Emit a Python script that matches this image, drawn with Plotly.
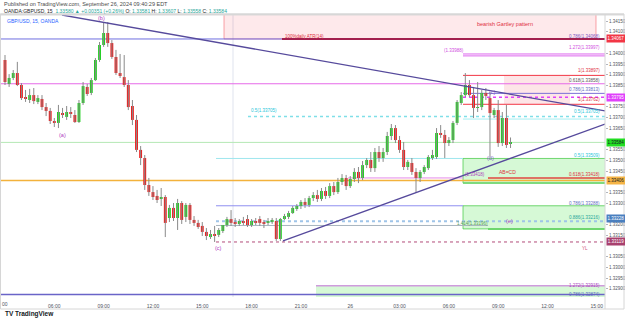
import plotly.graph_objects as go
from datetime import datetime, timedelta

# ---------------- data (GBPUSD 15m) ----------------
START = datetime(2024, 9, 25, 3, 0)

opens = [1.33969, 1.33857, 1.33885, 1.33908, 1.33852, 1.33796, 1.33782, 1.33805, 1.33773, 1.33787,
         1.33749, 1.33731, 1.33684, 1.33675, 1.33721, 1.33703, 1.33726, 1.33712, 1.33679, 1.33768,
         1.33843, 1.33815, 1.33875, 1.33969, 1.34039, 1.34095, 1.34048, 1.33983, 1.33908, 1.33889,
         1.33852, 1.33754, 1.33689, 1.33549, 1.33511, 1.33385, 1.33352, 1.33334, 1.33320, 1.33329,
         1.33231, 1.33278, 1.33231, 1.33301, 1.33236, 1.33292, 1.33222, 1.33208, 1.33194, 1.33166,
         1.33142, 1.33156, 1.33152, 1.33170, 1.33198, 1.33226, 1.33212, 1.33203, 1.33217, 1.33226,
         1.33198, 1.33217, 1.33226, 1.33208, 1.33208, 1.33212, 1.33217, 1.33133, 1.33226, 1.33236,
         1.33254, 1.33273, 1.33287, 1.33306, 1.33292, 1.33324, 1.33338, 1.33320, 1.33357, 1.33334,
         1.33380, 1.33352, 1.33399, 1.33418, 1.33380, 1.33413, 1.33446, 1.33418, 1.33478, 1.33502,
         1.33464, 1.33539, 1.33511, 1.33539, 1.33614, 1.33651, 1.33595, 1.33549, 1.33469, 1.33488,
         1.33446, 1.33418, 1.33446, 1.33464, 1.33511, 1.33516, 1.33628, 1.33619, 1.33581, 1.33595,
         1.33675, 1.33768, 1.33805, 1.33852, 1.33805, 1.33745, 1.33749, 1.33815, 1.33791, 1.33712,
         1.33735, 1.33581, 1.33698, 1.33581]
highs = [1.33992, 1.33903, 1.33922, 1.33960, 1.33861, 1.33829, 1.33834, 1.33838, 1.33805, 1.33805,
         1.33768, 1.33745, 1.33698, 1.33759, 1.33745, 1.33754, 1.33749, 1.33735, 1.33782, 1.33866,
         1.33857, 1.33885, 1.33978, 1.34053, 1.34142, 1.34146, 1.34062, 1.34016, 1.33997, 1.33992,
         1.33875, 1.33782, 1.33712, 1.33567, 1.33525, 1.33418, 1.33380, 1.33362, 1.33371, 1.33338,
         1.33292, 1.33301, 1.33320, 1.33310, 1.33301, 1.33301, 1.33240, 1.33222, 1.33212, 1.33184,
         1.33175, 1.33194, 1.33184, 1.33198, 1.33236, 1.33268, 1.33231, 1.33226, 1.33236, 1.33245,
         1.33226, 1.33231, 1.33240, 1.33222, 1.33231, 1.33231, 1.33231, 1.33231, 1.33250, 1.33264,
         1.33287, 1.33296, 1.33315, 1.33324, 1.33334, 1.33352, 1.33362, 1.33371, 1.33376, 1.33394,
         1.33399, 1.33418, 1.33436, 1.33432, 1.33427, 1.33464, 1.33469, 1.33497, 1.33511, 1.33539,
         1.33558, 1.33567, 1.33558, 1.33633, 1.33670, 1.33665, 1.33614, 1.33586, 1.33502, 1.33511,
         1.33464, 1.33455, 1.33478, 1.33525, 1.33549, 1.33651, 1.33665, 1.33642, 1.33609, 1.33684,
         1.33782, 1.33819, 1.33908, 1.33875, 1.33843, 1.33866, 1.33829, 1.33838, 1.33819, 1.33745,
         1.33782, 1.33726, 1.33759, 1.33607]
lows = [1.33852, 1.33843, 1.33875, 1.33847, 1.33782, 1.33773, 1.33768, 1.33763, 1.33763, 1.33735,
        1.33707, 1.33670, 1.33656, 1.33651, 1.33698, 1.33689, 1.33698, 1.33675, 1.33675, 1.33759,
        1.33801, 1.33805, 1.33871, 1.33960, 1.34030, 1.34030, 1.33974, 1.33899, 1.33885, 1.33843,
        1.33735, 1.33665, 1.33539, 1.33478, 1.33362, 1.33334, 1.33315, 1.33301, 1.33287, 1.33142,
        1.33212, 1.33217, 1.33175, 1.33203, 1.33212, 1.33203, 1.33194, 1.33180, 1.33147, 1.33128,
        1.33133, 1.33119, 1.33142, 1.33161, 1.33189, 1.33194, 1.33189, 1.33194, 1.33198, 1.33189,
        1.33189, 1.33198, 1.33194, 1.33184, 1.33198, 1.33203, 1.33124, 1.33124, 1.33222, 1.33226,
        1.33250, 1.33264, 1.33273, 1.33278, 1.33282, 1.33310, 1.33306, 1.33310, 1.33320, 1.33324,
        1.33338, 1.33343, 1.33385, 1.33362, 1.33371, 1.33399, 1.33394, 1.33408, 1.33464, 1.33446,
        1.33446, 1.33493, 1.33493, 1.33525, 1.33595, 1.33581, 1.33535, 1.33455, 1.33455, 1.33432,
        1.33348, 1.33399, 1.33436, 1.33455, 1.33502, 1.33507, 1.33605, 1.33511, 1.33567, 1.33581,
        1.33665, 1.33759, 1.33796, 1.33796, 1.33698, 1.33726, 1.33735, 1.33782, 1.33516, 1.33698,
        1.33563, 1.33567, 1.33558, 1.33558]
closes = [1.33866, 1.33885, 1.33908, 1.33852, 1.33791, 1.33787, 1.33805, 1.33777, 1.33791, 1.33749,
          1.33731, 1.33684, 1.33679, 1.33726, 1.33712, 1.33726, 1.33717, 1.33679, 1.33768, 1.33847,
          1.33810, 1.33875, 1.33969, 1.34039, 1.34095, 1.34048, 1.33983, 1.33908, 1.33894, 1.33852,
          1.33749, 1.33689, 1.33549, 1.33511, 1.33385, 1.33352, 1.33329, 1.33315, 1.33329, 1.33208,
          1.33278, 1.33231, 1.33301, 1.33222, 1.33292, 1.33222, 1.33208, 1.33189, 1.33166, 1.33147,
          1.33156, 1.33147, 1.33175, 1.33198, 1.33226, 1.33208, 1.33203, 1.33217, 1.33212, 1.33198,
          1.33217, 1.33212, 1.33208, 1.33203, 1.33217, 1.33222, 1.33133, 1.33226, 1.33240, 1.33254,
          1.33278, 1.33287, 1.33306, 1.33292, 1.33324, 1.33338, 1.33320, 1.33357, 1.33334, 1.33380,
          1.33352, 1.33399, 1.33418, 1.33380, 1.33413, 1.33446, 1.33418, 1.33478, 1.33502, 1.33464,
          1.33539, 1.33511, 1.33539, 1.33614, 1.33651, 1.33595, 1.33549, 1.33469, 1.33493, 1.33446,
          1.33418, 1.33446, 1.33469, 1.33516, 1.33525, 1.33628, 1.33619, 1.33581, 1.33595, 1.33675,
          1.33773, 1.33805, 1.33852, 1.33805, 1.33745, 1.33749, 1.33815, 1.33801, 1.33721, 1.33735,
          1.33581, 1.33698, 1.33572, 1.33584]

time_ticks_text = ["03:00", "06:00", "09:00", "12:00", "15:00", "18:00", "21:00", "26",
                   "03:00", "06:00", "09:00", "12:00", "15:00"]

# horizontal drawing levels (price)
lvl_atr = 1.34067
lvl_1272a, lvl_1272b = 1.33997, 1.33988
lvl_1a = 1.33897
lvl_0618a = 1.33858
lvl_0786a = 1.33813
lvl_mag = 1.33795
lvl_1b = 1.33762
lvl_05a = 1.33705
lvl_last = 1.33584
lvl_05b = 1.33509
lvl_0618b = 1.33418
lvl_orange = 1.33406
lvl_0786b = 1.33288
lvl_0886 = 1.33216
lvl_blue = 1.33228
lvl_1414 = 1.33196
lvl_greenlow = 1.33180
lvl_boxlow1 = 1.33394
lvl_yl = 1.33119
lvl_1272c = 1.32915
lvl_0786c = 1.32874

Y_MIN, Y_MAX = 1.32862, 1.34179

# ---------------- helpers ----------------
BAR = timedelta(minutes=15)
def bt(i):
    return START + BAR * i

PXW, PXT, PXB = 605.0, 15.0, 297.0
def pb(x):  # pixel x -> bar index
    return (x - 5.0) / 4.11
def px(x):
    return x / PXW
def py(y):
    return (PXB - y) / (PXB - PXT)

times = [bt(i) for i in range(len(opens))]
UP, DN, WICK = "#1fcf1f", "#ef1a1a", "#8a8a8a"

fig = go.Figure()
# wicks
wx, wy = [], []
for t, h, l in zip(times, highs, lows):
    wx += [t, t, None]
    wy += [l, h, None]
fig.add_trace(go.Scatter(x=wx, y=wy, mode="lines", line=dict(color=WICK, width=1),
                         hoverinfo="skip", showlegend=False))
# bodies
base = [min(o, c) for o, c in zip(opens, closes)]
hgt = [max(abs(c - o), 0.00002) for o, c in zip(opens, closes)]
cols = [UP if c >= o else DN for o, c in zip(opens, closes)]
fig.add_trace(go.Bar(x=times, y=hgt, base=base, marker=dict(color=cols, line=dict(width=0)),
                     width=15 * 60 * 1000 * 0.7, hoverinfo="skip", showlegend=False))

shapes = []
def hline(p, x0, x1, color, width=1, dash="solid"):
    shapes.append(dict(type="line", xref="x", yref="y", x0=bt(pb(x0)), x1=bt(pb(x1)),
                       y0=p, y1=p, line=dict(color=color, width=width, dash=dash), layer="below"))
def box(p0, p1, x0, x1, fill, line="rgba(0,0,0,0)", lw=0):
    shapes.append(dict(type="rect", xref="x", yref="y", x0=bt(pb(x0)), x1=bt(pb(x1)),
                       y0=p0, y1=p1, fillcolor=fill, line=dict(color=line, width=lw), layer="below"))

# boxes
box(lvl_atr, Y_MAX + 0.0001, 224, 596, "rgba(242,54,69,0.11)", "rgba(242,54,69,0.45)", 1)
box(lvl_1a, lvl_1b, 504, 570, "rgba(242,54,69,0.13)")
box(lvl_05b, lvl_boxlow1, 463, 606, "rgba(0,220,0,0.16)", "rgba(60,200,60,0.7)", 1)
box(lvl_0786b, lvl_greenlow, 463, 606, "rgba(0,220,0,0.16)", "rgba(60,200,60,0.7)", 1)
box(lvl_1272c, Y_MIN - 0.0001, 316, 606, "rgba(0,220,0,0.16)")
# vertical line
shapes.append(dict(type="line", xref="x", yref="paper", x0=bt(pb(233)), x1=bt(pb(233)), y0=0, y1=1,
                   line=dict(color="#dfe3ee", width=1), layer="below"))
# horizontal levels
hline(lvl_atr, 0, 282, "#6f6fe0", 1)
hline(lvl_atr, 282, 606, "#a3204e", 2)
hline(lvl_1272a, 463, 606, "#dd66ee", 1)
hline(lvl_1272b, 463, 606, "#dd66ee", 1)
hline(lvl_1a, 463, 606, "#f23645", 1)
hline(lvl_0618a, 0, 606, "#e66ae8", 1.2)
hline(lvl_0786a, 463, 606, "#7b6fd6", 1)
hline(lvl_mag, 463, 606, "#e040fb", 1.5, "dot")
hline(lvl_1b, 463, 606, "#f23645", 1)
hline(lvl_05a, 248, 606, "#7fdfe8", 1.5, "dot")
hline(lvl_05a - 0.00012, 463, 606, "#a6eef2", 1)
hline(lvl_last, 0, 606, "#b4e8b4", 1)
hline(lvl_05b, 216, 463, "#9ee6ee", 1)
hline(lvl_0618b, 348, 463, "#e58ae8", 1)
hline(lvl_0618b, 488, 606, "#e0473f", 1.5)
hline(lvl_orange, 0, 606, "#f3b23c", 1.5)
hline(lvl_boxlow1, 463, 606, "#6fd66f", 1.5)
hline(lvl_0786b, 216, 463, "#8f8ff0", 1)
hline(lvl_0886, 216, 606, "#9fc4e8", 2, "dot")
hline(lvl_1414, 216, 488, "#a8b4bf", 1)
hline(lvl_greenlow, 488, 606, "#6fd66f", 2)
hline(lvl_yl, 216, 606, "#b24c7a", 1, "dot")
hline(lvl_1272c, 316, 606, "#cf9bdd", 1.5)
hline(lvl_0786c, 0, 606, "#6a64c8", 1.5)

# trend lines
def tline(xa, pa, xb, pb_, color="#564a9c", w=1.3):
    shapes.append(dict(type="line", xref="x", yref="y", x0=bt(pb(xa)), x1=bt(pb(xb)),
                       y0=pa, y1=pb_, line=dict(color=color, width=w)))
tline(62, 1.34179, 605, 1.33731)
tline(283, 1.33124, 605, 1.33670)

# frame
shapes.append(dict(type="line", xref="paper", yref="paper", x0=0, x1=624 / PXW, y0=py(14.5), y1=py(14.5),
                   line=dict(color="#d9d9d9", width=2)))
shapes.append(dict(type="rect", xref="paper", yref="paper", x0=px(0.5), x1=px(624), y0=py(309), y1=py(14),
                   line=dict(color="#d6d6d6", width=1)))
shapes.append(dict(type="line", xref="paper", yref="paper", x0=1, x1=1, y0=py(309), y1=py(14),
                   line=dict(color="#d6d6d6", width=1)))

FONT = "Liberation Sans"
ann = []
def txt(x, y, s, color, size=5, xa="left", bold=False):
    ann.append(dict(xref="paper", yref="paper", x=px(x), y=py(y), text=("<b>%s</b>" % s) if bold else s,
                    showarrow=False, xanchor=xa, yanchor="middle",
                    font=dict(family=FONT, size=size, color=color)))

txt(2, 4, "Published on TradingView.com, September 26, 2024 09:40:29 EDT", "#4a4a4a", 5.5)
txt(2, 11, "OANDA:GBPUSD, 15  <span style='color:#26a69a'>1.33580 ▲ +0.00351 (+0.26%)</span> "
           "O: <span style='color:#26a69a'>1.33581</span> H: <span style='color:#26a69a'>1.33607</span> "
           "L: <span style='color:#26a69a'>1.33558</span> C: <span style='color:#26a69a'>1.33584</span>",
    "#222222", 5)
txt(5, 21, "GBP/USD, 15, OANDA", "#2962ff", 5)

txt(62, 135, "(a)", "#b03ac0", 5.5, "center")
txt(101, 18, "(b)", "#b03ac0", 5.5, "center")
txt(218, 248, "(c)", "#b03ac0", 5.5, "center")
txt(490, 158, "(d)", "#7e57c2", 5.5, "center")
txt(509, 221, "(e)", "#b03ac0", 5.5, "center")
txt(492, 92, "(c)", "#7e57c2", 5.5, "center")

txt(505, 24, "bearish Gartley pattern", "#e0303e", 5.5, "center")
txt(283, 36, "100%daily ATR(14)", "#e0303e", 4.5)
txt(602, 36, "0.786(1.34068)", "#7e57c2", 4.5, "right")
txt(602, 47, "1.272(1.33997)", "#d04ce0", 4.5, "right")
txt(442, 50, "(1.33988)", "#d04ce0", 4.5)
txt(602, 70, "1(1.33897)", "#e0303e", 4.5, "right")
txt(602, 80, "0.618(1.33858)", "#555555", 4.5, "right")
txt(602, 89, "0.786(1.33813)", "#5c6bc0", 4.5, "right")
txt(602, 99, "1(1.33762)", "#e0303e", 4.5, "right")
txt(602, 111, "0.5(1.33705)", "#26c6da", 4.5, "right")
txt(249, 110, "0.5(1.33705)", "#26c6da", 4.5)
txt(602, 155, "0.5(1.33509)", "#26c6da", 4.5, "right")
txt(602, 175, "0.618(1.33418)", "#e0303e", 4.5, "right")
txt(463, 175, "(1.33418)", "#b03ac0", 4.5)
txt(497, 172, "AB=CD", "#e0303e", 5)
txt(602, 203, "0.786(1.33288)", "#5c6bc0", 4.5, "right")
txt(602, 217, "0.886(1.33216)", "#26a69a", 4.5, "right")
txt(455, 223, "1.414(1.33196)", "#5aa05a", 4.5)
txt(580, 248, "YL", "#d0507a", 4.5)
txt(602, 285, "1.272(1.32915)", "#ab47bc", 4.5, "right")
txt(602, 294, "0.786(1.32874)", "#5c6bc0", 4.5, "right")
txt(3, 314, "TV TradingView", "#131722", 6.5, bold=True)
txt(0, 304, "00", "#50535e", 5)

# price tags on the axis
tags = [(lvl_atr, "#f23645", "white"), (lvl_mag, "#e040fb", "white"), (lvl_last, "#22dd22", "#131722"),
        (1.33406, "#f5b445", "#131722"), (lvl_blue, "#4a7fbf", "white"), (lvl_yl, "#a8406e", "white")]
for p, bg, fg in tags:
    ann.append(dict(xref="paper", yref="y", x=1, y=p, xanchor="left", yanchor="middle", xshift=1,
                    text="%.5f" % p, showarrow=False, bgcolor=bg, width=18, height=7, borderpad=0,
                    font=dict(family=FONT, size=4.5, color=fg)))

# axis ticks hidden where a price tag covers them (as the platform does)
ytv = [round(1.3290 + 0.0005 * k, 4) for k in range(26)]
ytv = [v for v in ytv if all(abs(v - p) > 0.00026 for p, _, _ in tags)]

fig.update_layout(
    width=625, height=319, margin=dict(l=0, r=20, t=15, b=22),
    paper_bgcolor="white", plot_bgcolor="white", barmode="overlay",
    shapes=shapes, annotations=ann, showlegend=False,
    xaxis=dict(type="date", range=[bt(pb(0)), bt(pb(605))], showgrid=False, zeroline=False,
               tickvals=[bt(12 * k) for k in range(1, len(time_ticks_text))], ticktext=time_ticks_text[1:],
               tickfont=dict(family=FONT, size=5, color="#50535e"), ticks="", showline=False,
               ticklabelstandoff=5, rangeslider=dict(visible=False), fixedrange=True),
    yaxis=dict(range=[Y_MIN, Y_MAX], side="right", showgrid=False, zeroline=False,
               tickvals=ytv, ticktext=["%.5f" % v for v in ytv], ticks="outside", ticklen=2,
               tickcolor="#b2b5be", tickfont=dict(family=FONT, size=4.5, color="#50535e"),
               showline=False),
)
fig.write_html("out.html")
